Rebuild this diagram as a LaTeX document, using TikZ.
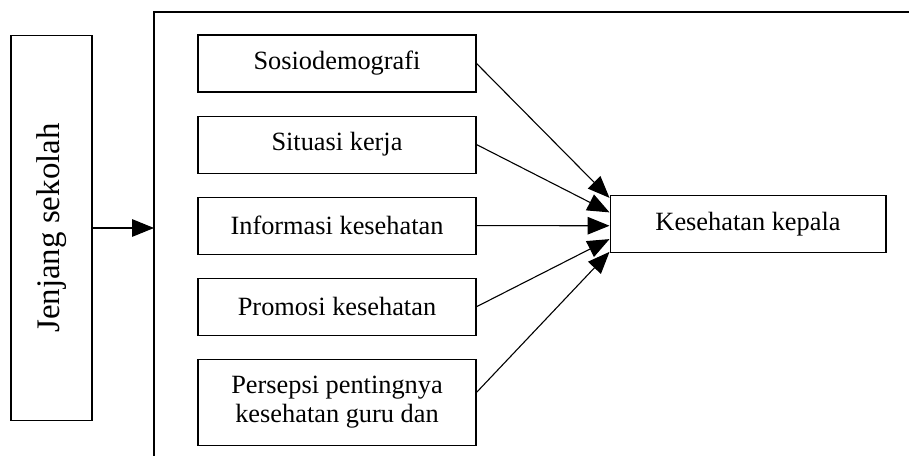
\documentclass[tikz,border=0pt]{standalone}
\usepackage{fontspec}
\setmainfont{Liberation Serif}
\usetikzlibrary{positioning, arrows.meta, calc}

\begin{document}
\begin{tikzpicture}[x=0.016cm, y=-0.016cm, font=\fontsize{12}{13.5}\selectfont,
		box/.style={rectangle, draw, line width=0.5pt, inner sep=0pt, minimum width=4.45cm, minimum height=0.912cm, align=center},
		arr/.style={-{Triangle[length=10pt, width=8pt]}, line width=0.5pt}]
		\useasboundingbox (0,0) rectangle (909,456);
		% outer frame
		\coordinate (fr) at (154,12);
		\draw[line width=1pt] (930,12) -- (fr) -- (154,480);
		% left box
		\node[rectangle, draw, line width=0.5pt, minimum width=1.296cm, minimum height=6.176cm] (js) at (51.5,228) {};
		\node[rotate=90, font=\fontsize{15}{16}\selectfont] (jst) at (js.center) {Jenjang sekolah};
		\draw[arr] (js.east) -- (js.east -| fr);
		% factors
		\node[box] (sd) at (337,63.5) {Sosiodemografi};
		\node[box, below=0.368cm of sd] (sk) {Situasi kerja};
		\node[box, below=0.368cm of sk] (ik) {Informasi kesehatan};
		\node[box, below=0.368cm of ik] (pk) {Promosi kesehatan};
		\node[box, below=0.368cm of pk, minimum height=1.376cm] (ps) {Persepsi pentingnya\\kesehatan guru dan};
		% outcome
		\node[box, minimum width=4.416cm] (kk) at (748,224) {Kesehatan kepala};
		% arrows to outcome
		\draw[arr] (sd.east) -- ($(kk.north west)!0.05!(kk.south west)$);
		\draw[arr] (sk.east) -- ($(kk.north west)!0.3!(kk.south west)$);
		\draw[arr] (ik.east) -- ($(kk.north west)!0.53!(kk.south west)$);
		\draw[arr] (pk.east) -- ($(kk.north west)!0.76!(kk.south west)$);
		\draw[arr] ([yshift=4.5pt]ps.east) -- ($(kk.north west)!0.98!(kk.south west)$);
	\end{tikzpicture}
\end{document}
